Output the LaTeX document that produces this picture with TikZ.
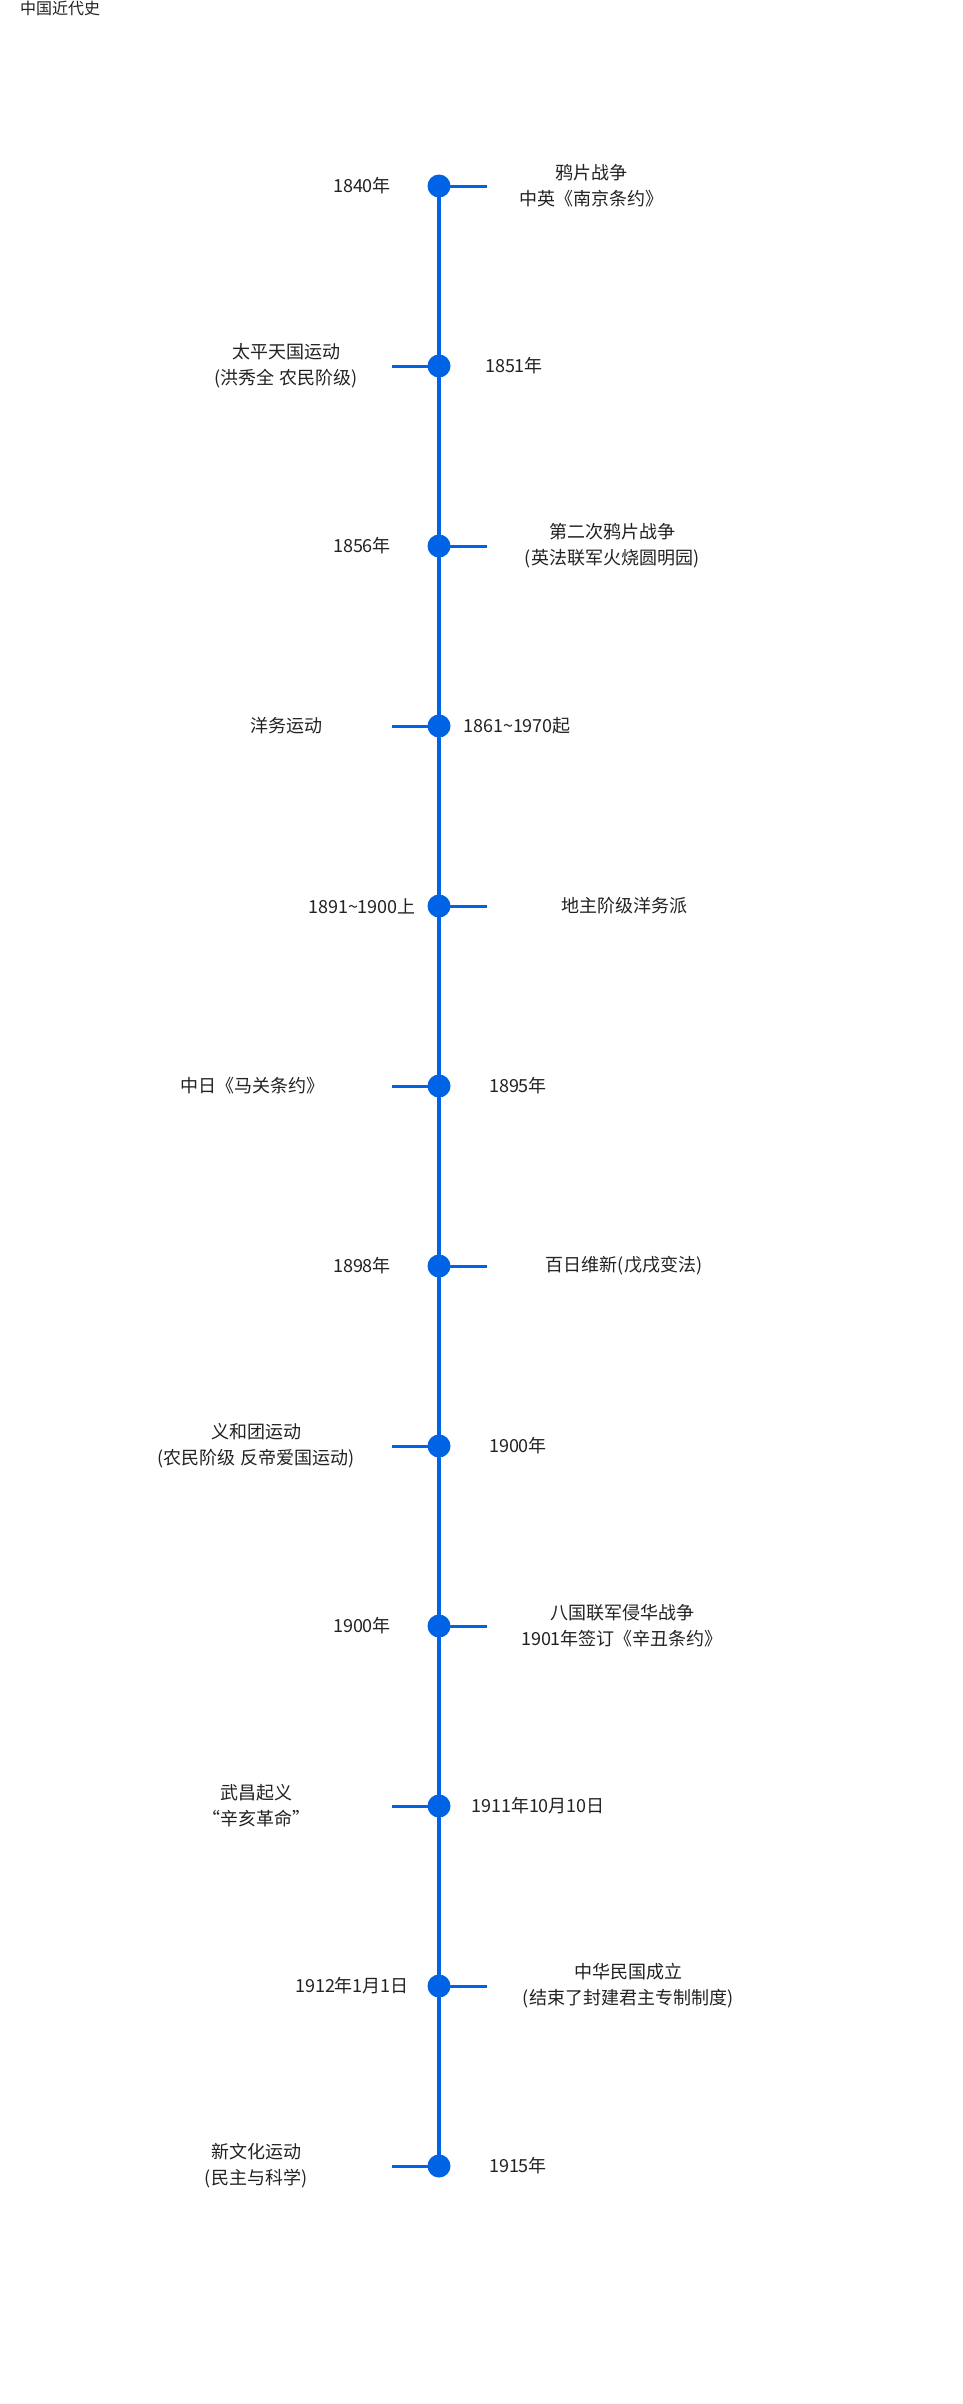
\documentclass[tikz,border=0pt]{standalone}
\usepackage{fontspec}
\setmainfont{Noto Sans CJK SC}
\definecolor{tlblue}{RGB}{0,98,228}
\definecolor{txt}{RGB}{34,34,34}
\begin{document}
\begin{tikzpicture}[x=1pt,y=-1pt,
  dot/.style={circle,fill=tlblue,draw=none,inner sep=0pt,minimum size=23pt},
  spine/.style={draw=tlblue,line width=4pt},
  tickline/.style={draw=tlblue,line width=3pt},
  lbl/.style={font=\fontsize{18}{26}\selectfont,text=txt,align=center,inner sep=0pt,anchor=center}]
\useasboundingbox[fill=white] (0,0) rectangle (963,2404);
\node[anchor=west,font=\fontsize{16}{18}\selectfont,text=txt,inner sep=0pt] (title) at (20,8) {中国近代史};
% dots
\node[dot] (d1) at (439,186) {};
\node[dot] (d2) at (439,366) {};
\node[dot] (d3) at (439,546) {};
\node[dot] (d4) at (439,726) {};
\node[dot] (d5) at (439,906) {};
\node[dot] (d6) at (439,1086) {};
\node[dot] (d7) at (439,1266) {};
\node[dot] (d8) at (439,1446) {};
\node[dot] (d9) at (439,1626) {};
\node[dot] (d10) at (439,1806) {};
\node[dot] (d11) at (439,1986) {};
\node[dot] (d12) at (439,2166) {};
% tick ends
\coordinate (t1) at (487,186);
\coordinate (t2) at (392,366);
\coordinate (t3) at (487,546);
\coordinate (t4) at (392,726);
\coordinate (t5) at (487,906);
\coordinate (t6) at (392,1086);
\coordinate (t7) at (487,1266);
\coordinate (t8) at (392,1446);
\coordinate (t9) at (487,1626);
\coordinate (t10) at (392,1806);
\coordinate (t11) at (487,1986);
\coordinate (t12) at (392,2166);
% spine and ticks
\draw[spine] (d1.center) -- (d12.center);
\foreach \i in {1,...,12} {\draw[tickline] (d\i.center) -- (t\i);}
% labels
\node[lbl] (y1) at (362,186) {1840年};
\node[lbl] (e1) at (591,186) {鸦片战争\\中英《南京条约》};
\node[lbl] (e2) at (286,366) {太平天国运动\\(洪秀全 农民阶级)};
\node[lbl] (y2) at (514,366) {1851年};
\node[lbl] (y3) at (362,546) {1856年};
\node[lbl] (e3) at (612,546) {第二次鸦片战争\\(英法联军火烧圆明园)};
\node[lbl] (e4) at (286,726) {洋务运动};
\node[lbl] (y4) at (517,726) {1861\textasciitilde1970起};
\node[lbl] (y5) at (362,906) {1891\textasciitilde1900上};
\node[lbl] (e5) at (624,906) {地主阶级洋务派};
\node[lbl] (e6) at (252,1086) {中日《马关条约》};
\node[lbl] (y6) at (518,1086) {1895年};
\node[lbl] (y7) at (362,1266) {1898年};
\node[lbl] (e7) at (624,1266) {百日维新(戊戌变法)};
\node[lbl] (e8) at (256,1446) {义和团运动\\(农民阶级 反帝爱国运动)};
\node[lbl] (y8) at (518,1446) {1900年};
\node[lbl] (y9) at (362,1626) {1900年};
\node[lbl] (e9) at (622,1626) {八国联军侵华战争\\1901年签订《辛丑条约》};
\node[lbl] (e10) at (256,1806) {武昌起义\\“辛亥革命”};
\node[lbl] (y10) at (538,1806) {1911年10月10日};
\node[lbl] (y11) at (352,1986) {1912年1月1日};
\node[lbl] (e11) at (628,1986) {中华民国成立\\(结束了封建君主专制制度)};
\node[lbl] (e12) at (256,2166) {新文化运动\\(民主与科学)};
\node[lbl] (y12) at (518,2166) {1915年};
\end{tikzpicture}
\end{document}
